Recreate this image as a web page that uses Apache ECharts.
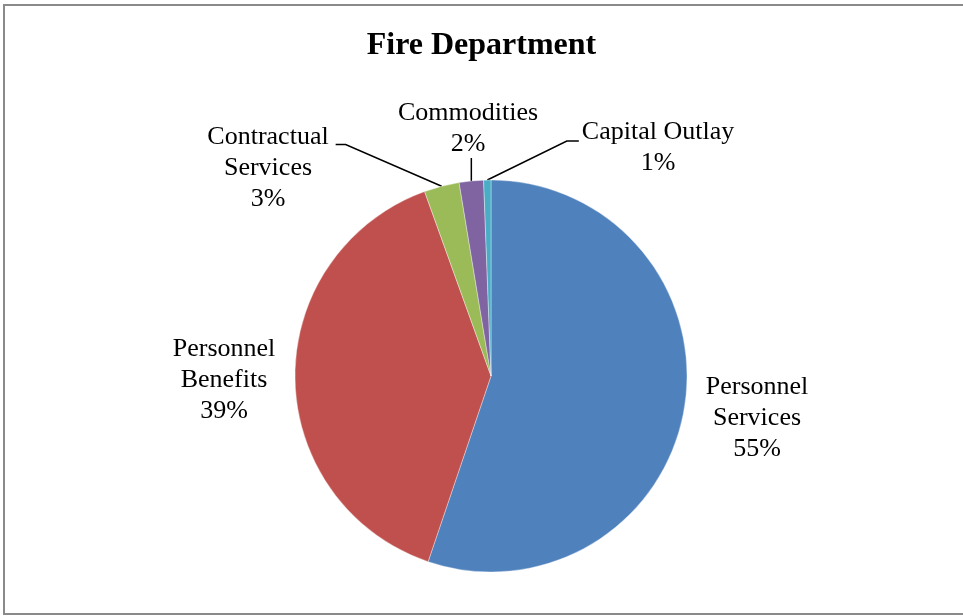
<!DOCTYPE html>
<html>
<head>
<meta charset="utf-8">
<script src="https://cdn.jsdelivr.net/npm/echarts@6/dist/echarts.min.js"></script>
<style>
  html, body { margin: 0; padding: 0; background: #fff; }
  #chart { width: 963px; height: 616px; }
</style>
</head>
<body>
<div id="chart"></div>
<script>
// Fire Department budget shares by expense category
const categories = ['Personnel\nServices', 'Personnel\nBenefits', 'Contractual\nServices', 'Commodities', 'Capital Outlay'];
const shares = [55.2, 39.3, 2.9, 2.0, 0.6];
const sliceColors = ['#4F81BD', '#C0504D', '#9BBB59', '#8064A2', '#4BACC6'];

// label text-block centres around the pie
const labelSpots = [[757, 418], [224, 380], [268, 168], [468, 129], [658, 148]];
// leader style per label: null = no leader, 'right' / 'left' = elbow into that side, 'below' = straight drop
const leaderKind = [null, null, 'right', 'below', 'left'];

const chart = echarts.init(document.getElementById('chart'), null, { renderer: 'canvas' });

chart.setOption({
  backgroundColor: '#ffffff',
  animation: false,
  title: {
    text: 'Fire Department',
    left: 'center',
    top: 25,
    textStyle: {
      fontFamily: 'Liberation Serif',
      fontWeight: 'bold',
      fontSize: 32,
      color: '#000'
    }
  },
  graphic: [{
    type: 'rect',
    shape: { x: 4, y: 5, width: 964, height: 609 },
    style: { fill: 'none', stroke: '#8a8a8a', lineWidth: 2 },
    silent: true,
    z: 100
  }],
  series: [{
    type: 'pie',
    center: [491, 376],
    radius: 196,
    startAngle: 90,
    clockwise: true,
    avoidLabelOverlap: false,
    itemStyle: { borderColor: 'rgba(255,255,255,0.6)', borderWidth: 0.6 },
    label: {
      show: true,
      position: 'outside',
      fontFamily: 'Liberation Serif',
      fontSize: 26,
      lineHeight: 31,
      color: '#000',
      align: 'center',
      formatter: p => p.name + '\n' + Math.round(p.value) + '%'
    },
    labelLine: {
      show: true,
      length: 20,
      length2: 10,
      smooth: false,
      lineStyle: { color: '#000', width: 1.5 }
    },
    labelLayout: function (params) {
      const i = params.dataIndex;
      const cx = labelSpots[i][0], cy = labelSpots[i][1];
      const w = params.labelRect.width, h = params.labelRect.height;
      const left = cx - w / 2, right = cx + w / 2, top = cy - h / 2, bottom = cy + h / 2;
      const out = {
        x: cx, y: cy,
        align: 'center',
        verticalAlign: 'middle',
        hideOverlap: false
      };
      const pts = params.labelLinePoints;
      const kind = leaderKind[i];
      if (kind && pts && pts.length) {
        const start = pts[0];
        if (kind === 'right') {
          out.labelLinePoints = [start, [right + 17, top + 23], [right + 7, top + 23]];
        } else if (kind === 'left') {
          out.labelLinePoints = [start, [left - 15, top + 24], [left - 3, top + 24]];
        } else {
          out.labelLinePoints = [start, [start[0], bottom - 2], [start[0], bottom - 2]];
        }
      }
      return out;
    },
    data: categories.map((name, i) => ({
      name: name,
      value: shares[i],
      itemStyle: { color: sliceColors[i] },
      labelLine: { show: leaderKind[i] !== null }
    }))
  }]
});
</script>
</body>
</html>
